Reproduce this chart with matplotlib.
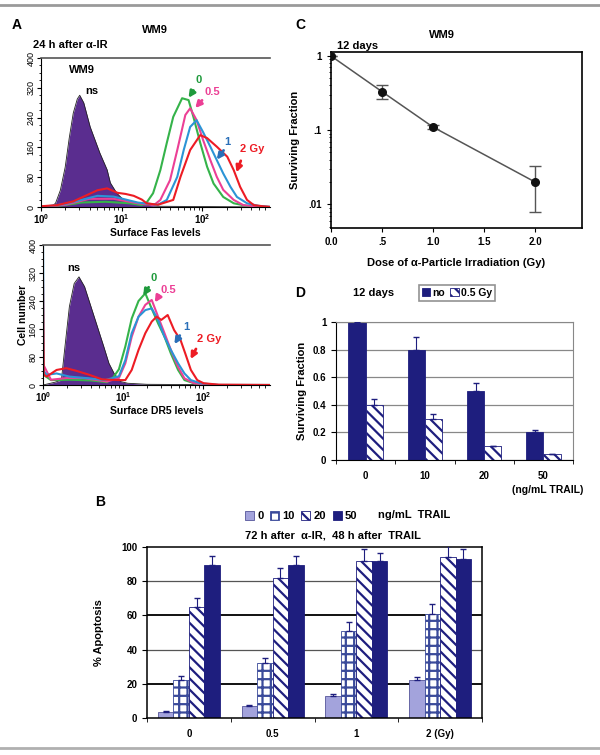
import numpy as np
import matplotlib.pyplot as plt
from matplotlib.ticker import FixedLocator, NullFormatter, LogLocator

plt.rcParams['font.family'] = ['Liberation Sans', 'DejaVu Sans']
plt.rcParams['font.weight'] = 'bold'
plt.rcParams['axes.labelweight'] = 'bold'
plt.rcParams['hatch.linewidth'] = 1.6

# ---------------- data ----------------
# panel A, Fas histograms (x = log10 fluorescence, y = cell number)
fas_ns_x = [0.0, 0.12, 0.18, 0.24, 0.30, 0.35, 0.40, 0.45, 0.48, 0.53, 0.61, 0.67, 0.73, 0.82, 0.86, 0.94, 1.02, 1.15, 1.30, 1.45, 2.85]
fas_ns_y = [0, 0, 10, 45, 107, 185, 252, 290, 300, 280, 215, 180, 145, 100, 65, 37, 20, 10, 5, 2, 0]
fas_0_x = [0.0, 0.3, 0.5, 0.8, 1.1, 1.25, 1.31, 1.39, 1.48, 1.56, 1.64, 1.75, 1.83, 1.89, 1.975, 2.06, 2.14, 2.26, 2.39, 2.55, 2.85]
fas_0_y = [0, 5, 12, 14, 10, 5, 12, 37, 99, 172, 242, 292, 287, 242, 172, 108, 63, 27, 10, 3, 0]
fas_05_x = [0.0, 0.3, 0.6, 0.9, 1.2, 1.4, 1.48, 1.60, 1.69, 1.79, 1.85, 1.93, 2.01, 2.10, 2.18, 2.26, 2.39, 2.51, 2.65, 2.85]
fas_05_y = [0, 6, 22, 22, 10, 5, 19, 72, 153, 247, 265, 233, 180, 126, 81, 46, 19, 5, 2, 0]
fas_1_x = [0.0, 0.3, 0.7, 0.9, 1.2, 1.45, 1.56, 1.69, 1.77, 1.85, 1.93, 2.01, 2.10, 2.18, 2.26, 2.35, 2.43, 2.555, 2.7, 2.85]
fas_1_y = [0, 8, 30, 28, 12, 6, 19, 81, 153, 215, 233, 201, 162, 126, 90, 54, 27, 10, 3, 0]
fas_2_x = [0.0, 0.2, 0.4, 0.55, 0.7, 0.82, 0.95, 1.05, 1.15, 1.25, 1.31, 1.45, 1.64, 1.73, 1.85, 1.975, 2.06, 2.18, 2.31, 2.39, 2.47, 2.555, 2.64, 2.75, 2.85]
fas_2_y = [2, 5, 15, 30, 45, 50, 38, 35, 30, 20, 10, 6, 19, 81, 153, 193, 185, 162, 135, 99, 54, 19, 5, 2, 0]

# panel A, DR5 histograms
dr5_ns_x = [0.0, 0.15, 0.23, 0.27, 0.33, 0.39, 0.45, 0.52, 0.60, 0.68, 0.76, 0.825, 0.89, 0.97, 1.06, 1.3, 2.85]
dr5_ns_y = [0, 8, 14, 100, 224, 290, 309, 281, 224, 167, 110, 62, 33, 10, 5, 2, 0]
dr5_0_x = [0.0, 0.1, 0.35, 0.6, 0.8, 0.87, 0.95, 1.03, 1.11, 1.195, 1.28, 1.36, 1.44, 1.52, 1.60, 1.69, 1.77, 1.89, 2.1, 2.85]
dr5_0_y = [30, 14, 15, 13, 8, 19, 45, 110, 190, 240, 262, 218, 176, 138, 90, 43, 14, 5, 0, 0]
dr5_05_x = [0.0, 0.1, 0.3, 0.5, 0.8, 0.95, 1.03, 1.11, 1.195, 1.28, 1.36, 1.44, 1.52, 1.60, 1.69, 1.77, 1.89, 2.1, 2.85]
dr5_05_y = [60, 15, 20, 20, 10, 20, 62, 138, 195, 229, 243, 195, 148, 100, 52, 19, 5, 0, 0]
dr5_1_x = [0.0, 0.01, 0.045, 0.17, 0.33, 0.58, 0.78, 0.95, 1.03, 1.11, 1.195, 1.28, 1.36, 1.44, 1.52, 1.60, 1.69, 1.77, 1.85, 1.97, 2.2, 2.85]
dr5_1_y = [420, 40, 29, 33, 24, 19, 14, 25, 71, 148, 195, 214, 219, 186, 138, 100, 62, 33, 14, 5, 0, 0]
dr5_2_x = [0.0, 0.01, 0.045, 0.17, 0.29, 0.41, 0.58, 0.74, 0.95, 1.03, 1.11, 1.195, 1.28, 1.36, 1.42, 1.48, 1.56, 1.64, 1.72, 1.78, 1.85, 1.93, 2.01, 2.2, 2.85]
dr5_2_y = [305, 30, 24, 43, 48, 41, 29, 16, 14, 14, 43, 100, 148, 181, 195, 186, 200, 157, 129, 90, 43, 14, 5, 1, 0]

# panel C
dose = [0.0, 0.5, 1.0, 2.0]
surv = [1.0, 0.33, 0.11, 0.02]
surv_lo = [1.0, 0.26, 0.104, 0.008]
surv_hi = [1.0, 0.40, 0.117, 0.033]

# panel D
trail_d = ['0', '10', '20', '50']
d_no = [1.0, 0.8, 0.5, 0.2]
d_no_err = [0.005, 0.09, 0.06, 0.02]
d_05 = [0.4, 0.3, 0.1, 0.04]
d_05_err = [0.04, 0.03, 0.005, 0.005]

# panel B
b_groups = ['0', '0.5', '1', '2 (Gy)']
b_trail = ['0', '10', '20', '50']
b_vals = [[3.5, 7.2, 13, 22.3],
          [22.3, 32, 51, 61],
          [65, 82, 92, 94.2],
          [89.3, 89.3, 91.6, 93.2]]
b_err = [[0.5, 0.6, 1.2, 1.7],
         [2.0, 3.3, 5.0, 5.8],
         [5.0, 6.0, 7.0, 6.4],
         [5.3, 5.3, 5.1, 5.4]]

navy = '#1e1e7e'
GREEN, PINK, BLUE, RED, PURPLE = '#35b34a', '#ec3f95', '#2b94d6', '#ed1c24', '#5a2d8f'

W, H = 600, 755


def box(l, t, r, b):
    return [l / W, 1 - b / H, (r - l) / W, (b - t) / H]


def ftext(x, y, s, **kw):
    fig.text(x / W, 1 - y / H, s, **kw)


fig = plt.figure(figsize=(6, 7.55), dpi=100)
fig.add_artist(plt.Line2D([0, 1], [1 - 5 / H, 1 - 5 / H], color='#9a9a9a', lw=2))
fig.add_artist(plt.Line2D([0, 1], [1 - 748 / H, 1 - 748 / H], color='#b0b0b0', lw=2))


def hist_axes(rect, ns, curves, arrows, ns_lab, xlabel, ylabel=None, wm9=None):
    ax = fig.add_axes(rect)
    ax.fill_between(10 ** np.array(ns[0]), ns[1], color=PURPLE, lw=0)
    ax.plot(10 ** np.array(ns[0]), ns[1], color='#222222', lw=0.6)
    for (xs, ys, c) in curves:
        ax.plot(10 ** np.array(xs), ys, color=c, lw=1.5)
    for (lab, txy, a0, a1, c) in arrows:
        ax.text(10 ** txy[0], txy[1], lab, color=c, fontsize=8, ha='center', va='center')
        ax.annotate('', xy=(10 ** a1[0], a1[1]), xytext=(10 ** a0[0], a0[1]),
                    arrowprops=dict(arrowstyle='-|>', color=c, lw=2, mutation_scale=9))
    ax.text(10 ** ns_lab[0], ns_lab[1], 'ns', fontsize=8, ha='center', va='center')
    if wm9:
        ax.text(10 ** wm9[0], wm9[1], 'WM9', fontsize=8, ha='center', va='center')
    ax.set_xscale('log')
    ax.set_xlim(1, 10 ** 2.84)
    ax.set_ylim(0, 400)
    ax.set_yticks(range(0, 401, 80))
    ax.yaxis.set_minor_locator(FixedLocator(range(0, 401, 20)))
    ax.tick_params(axis='y', labelsize=6.5, labelrotation=90, length=3, pad=1)
    ax.tick_params(axis='y', which='minor', length=1.5)
    for lab in ax.get_yticklabels():
        lab.set_va('center')
        lab.set_fontweight('normal')
    ax.xaxis.set_minor_locator(LogLocator(base=10, subs=np.arange(2, 10)))
    ax.xaxis.set_minor_formatter(NullFormatter())
    ax.tick_params(axis='x', labelsize=7, length=3, pad=1)
    ax.spines['right'].set_visible(False)
    ax.spines['top'].set_color('#555555')
    ax.spines['top'].set_linewidth(1.2)
    ax.set_xlabel(xlabel, fontsize=7.5, labelpad=1)
    if ylabel:
        ax.set_ylabel(ylabel, fontsize=7.5, labelpad=0)
    return ax


# ---- panel A top (Fas)
hist_axes(box(41, 58, 270, 207), (fas_ns_x, fas_ns_y),
          [(fas_0_x, fas_0_y, GREEN), (fas_05_x, fas_05_y, PINK),
           (fas_1_x, fas_1_y, BLUE), (fas_2_x, fas_2_y, RED)],
          [('0', (1.96, 341), (1.91, 319), (1.81, 287), '#1f9a3c'),
           ('0.5', (2.12, 309), (2.02, 292), (1.89, 260), PINK),
           ('1', (2.31, 175), (2.285, 158), (2.16, 121), '#2a6fb8'),
           ('2 Gy', (2.62, 155), (2.49, 131), (2.41, 86), RED)],
          (0.63, 312), 'Surface Fas levels', wm9=(0.51, 368))

# ---- panel A bottom (DR5)
hist_axes(box(43, 245, 270, 385), (dr5_ns_x, dr5_ns_y),
          [(dr5_0_x, dr5_0_y, GREEN), (dr5_05_x, dr5_05_y, PINK),
           (dr5_1_x, dr5_1_y, BLUE), (dr5_2_x, dr5_2_y, RED)],
          [('0', (1.38, 305), (1.34, 286), (1.235, 248), '#1f9a3c'),
           ('0.5', (1.57, 271), (1.47, 262), (1.38, 229), PINK),
           ('1', (1.79, 167), (1.73, 148), (1.625, 110), '#2a6fb8'),
           ('2 Gy', (2.08, 131), (1.93, 110), (1.83, 67), RED)],
          (0.39, 335), 'Surface DR5 levels', ylabel='Cell number')

ftext(12, 25, 'A', fontsize=10, va='center')
ftext(155, 30, 'WM9', fontsize=8, ha='center', va='center')
ftext(33, 45, '24 h after \u03b1-IR', fontsize=8, va='center')

# ---- panel C
axc = fig.add_axes(box(331, 52, 582, 228))
axc.errorbar(dose, surv, yerr=[np.subtract(surv, surv_lo), np.subtract(surv_hi, surv)],
             fmt='o', color='#111111', ms=5.5, ecolor='#555555', elinewidth=1, capsize=4, zorder=3)
axc.plot(dose, surv, color='#555555', lw=1.1, zorder=2)
axc.set_yscale('log')
axc.set_ylim(0.0048, 1.13)
axc.set_xlim(0, 2.46)
axc.set_yticks([1, 0.1, 0.01])
axc.set_yticklabels(['1', '.1', '.01'])
axc.yaxis.set_minor_locator(LogLocator(base=10, subs=np.arange(2, 10)))
axc.yaxis.set_minor_formatter(NullFormatter())
axc.set_xticks([0, 0.5, 1.0, 1.5, 2.0])
axc.set_xticklabels(['0.0', '.5', '1.0', '1.5', '2.0'])
axc.tick_params(labelsize=7, length=3)
axc.tick_params(which='minor', length=1.5)
for s in axc.spines.values():
    s.set_linewidth(1.2)
axc.set_xlabel('Dose of \u03b1-Particle Irradiation (Gy)', fontsize=8, labelpad=8)
axc.set_ylabel('Surviving Fraction', fontsize=8, labelpad=6)
ftext(295, 25, 'C', fontsize=10, va='center')
ftext(442, 35, 'WM9', fontsize=8, ha='center', va='center')
ftext(337, 46, '12 days', fontsize=8, va='center')

# ---- panel D
axd = fig.add_axes(box(336, 322, 573, 460))
xd = np.arange(len(trail_d)) + 0.5
wd = 0.29
axd.bar(xd - wd / 2, d_no, wd, color=navy, edgecolor=navy, lw=0.6, zorder=2, label='no')
axd.bar(xd + wd / 2, d_05, wd, color='white', edgecolor=navy, hatch='\\\\\\', lw=0.6, zorder=2, label='0.5 Gy')
axd.errorbar(xd - wd / 2, d_no, yerr=[np.zeros(4), d_no_err], fmt='none', ecolor=navy, capsize=2.5, lw=0.8, zorder=3)
axd.errorbar(xd + wd / 2, d_05, yerr=[np.zeros(4), d_05_err], fmt='none', ecolor=navy, capsize=2.5, lw=0.8, zorder=3)
axd.set_ylim(0, 1)
axd.set_xlim(0, 4)
axd.set_yticks(np.arange(0, 1.01, 0.2))
axd.set_yticklabels(['0', '0.2', '0.4', '0.6', '0.8', '1'])
axd.yaxis.grid(True, color='#888888', lw=0.9)
axd.set_axisbelow(True)
axd.set_xticks(xd)
axd.set_xticklabels(trail_d)
axd.xaxis.set_minor_locator(FixedLocator(range(5)))
axd.tick_params(axis='x', which='major', length=0, pad=8)
axd.tick_params(axis='x', which='minor', length=3)
axd.tick_params(labelsize=7)
axd.spines['top'].set_color('#888888')
axd.spines['right'].set_color('#888888')
axd.set_ylabel('Surviving Fraction', fontsize=8, labelpad=4)
leg = axd.legend(loc='center', bbox_to_anchor=(0.51, 1.21), ncol=2, fontsize=7.5, frameon=True,
                 fancybox=False, edgecolor='#777777', handlelength=0.8, handleheight=0.8,
                 handletextpad=0.2, columnspacing=0.5, borderpad=0.3)
leg.get_frame().set_linewidth(1.2)
ftext(548, 490, '(ng/mL TRAIL)', fontsize=7.5, ha='center', va='center')
ftext(295, 293, 'D', fontsize=10, va='center')
ftext(353, 293, '12 days', fontsize=8, va='center')

# ---- panel B
axb = fig.add_axes(box(147, 547, 482, 718))
xb = np.arange(len(b_groups)) + 0.5
wb = 0.185
b_style = [dict(color='#a3a3dc', edgecolor='#55559a'),
           dict(color='white', edgecolor='#3a4a9a', hatch='++'),
           dict(color='white', edgecolor=navy, hatch='\\\\\\'),
           dict(color=navy, edgecolor=navy)]
for i in range(4):
    pos = xb + (i - 1.5) * wb
    axb.bar(pos, b_vals[i], wb, lw=0.6, zorder=2, label=b_trail[i], **b_style[i])
    axb.errorbar(pos, b_vals[i], yerr=[np.zeros(4), b_err[i]], fmt='none', ecolor=navy,
                 capsize=2.5, lw=0.8, zorder=3)
axb.set_ylim(0, 100)
axb.set_xlim(0, 4)
axb.set_yticks(range(0, 101, 20))
for yv in [20, 60]:
    axb.axhline(yv, color='#111111', lw=1.4, zorder=1)
for yv in [40, 80]:
    axb.axhline(yv, color='#555555', lw=0.9, zorder=1)
axb.set_xticks(xb)
axb.set_xticklabels(b_groups)
axb.xaxis.set_minor_locator(FixedLocator(range(5)))
axb.tick_params(axis='x', which='major', length=0, pad=8)
axb.tick_params(axis='x', which='minor', length=3)
axb.tick_params(labelsize=7)
for s in axb.spines.values():
    s.set_linewidth(1.1)
axb.set_ylabel('% Apoptosis', fontsize=8, labelpad=12)
axb.legend(loc='center', bbox_to_anchor=(0.46, 1.18), ncol=4, fontsize=8, frameon=False,
           handlelength=0.8, handleheight=0.8, handletextpad=0.3, columnspacing=0.6)
ftext(378, 515, 'ng/mL  TRAIL', fontsize=8, va='center')
ftext(333, 535, '72 h after  \u03b1-IR,  48 h after  TRAIL', fontsize=8, ha='center', va='center')
ftext(95, 502, 'B', fontsize=10, va='center')

fig.savefig('out.png', dpi=100)
